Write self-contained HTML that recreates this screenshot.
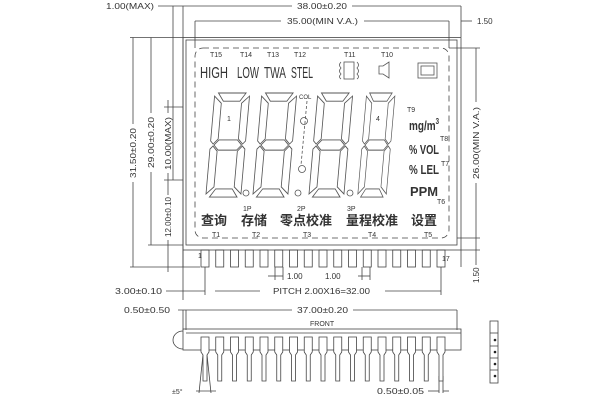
<!DOCTYPE html>
<html><head><meta charset="utf-8"><style>
html,body{margin:0;padding:0;background:#fff;}
svg{display:block;}
text{font-family:"Liberation Sans","Noto Sans CJK SC",sans-serif;fill:#333;}
</style></head><body>
<svg width="600" height="400" viewBox="0 0 600 400" xmlns="http://www.w3.org/2000/svg">
<defs>
<g id="dg" fill="none" stroke="#555" stroke-width="0.9">
<polygon points="5,1 35,1 29,9 11,9"/>
<polygon points="1,4 9,11 9,46 4,51 1,48"/>
<polygon points="39,4 39,48 36,51 31,46 31,11"/>
<polygon points="5,52 10,47 30,47 35,52 30,57 10,57"/>
<polygon points="1,56 4,53 9,58 9,93 1,100"/>
<polygon points="39,56 39,100 31,93 31,58 36,53"/>
<polygon points="11,95 29,95 35,103 5,103"/>
</g>
</defs>
<g stroke="#444" stroke-width="0.8" fill="none">
<rect x="183" y="37.5" width="278" height="212.5"/>
<rect x="186" y="40" width="271" height="205"/>
<rect x="195" y="48" width="254" height="190" rx="8" stroke-dasharray="6,4"/>
<line x1="158" y1="6" x2="292" y2="6"/><line x1="352" y1="6" x2="461" y2="6"/>
<line x1="461" y1="6" x2="461" y2="37"/>
<line x1="173" y1="6" x2="173" y2="180"/>
<line x1="183" y1="6" x2="183" y2="300"/>
<line x1="195" y1="21" x2="281" y2="21"/><line x1="364" y1="21" x2="449" y2="21"/>
<line x1="195" y1="21" x2="195" y2="48"/>
<line x1="449" y1="21" x2="449" y2="48"/>
<line x1="461" y1="21" x2="472" y2="21"/>
<line x1="130" y1="37.5" x2="183" y2="37.5"/>
<line x1="130" y1="267" x2="200" y2="267"/>
<line x1="148" y1="245" x2="183" y2="245"/>
<line x1="133" y1="37.5" x2="133" y2="124"/><line x1="133" y1="182" x2="133" y2="267"/>
<line x1="151" y1="37.5" x2="151" y2="113"/><line x1="151" y1="172" x2="151" y2="245"/>
<line x1="168" y1="100" x2="168" y2="113"/><line x1="168" y1="173" x2="168" y2="195"/>
<line x1="164" y1="107" x2="183" y2="107"/>
<line x1="164" y1="180" x2="183" y2="180"/>
<line x1="168" y1="240" x2="168" y2="272"/>
<line x1="449" y1="48" x2="480" y2="48"/>
<line x1="457" y1="238" x2="480" y2="238"/>
<line x1="461" y1="250" x2="480" y2="250"/>
<line x1="476" y1="48" x2="476" y2="102"/><line x1="476" y1="183" x2="476" y2="238"/>
<line x1="476" y1="238" x2="476" y2="265"/>
<line x1="183" y1="250" x2="183" y2="267"/>
<line x1="461" y1="250" x2="461" y2="267"/>
</g>
<g stroke="#444" stroke-width="0.8" fill="none">
<rect x="201" y="250" width="8" height="17"/><rect x="215.75" y="250" width="8" height="17"/><rect x="230.5" y="250" width="8" height="17"/><rect x="245.25" y="250" width="8" height="17"/><rect x="260" y="250" width="8" height="17"/><rect x="274.75" y="250" width="8" height="17"/><rect x="289.5" y="250" width="8" height="17"/><rect x="304.25" y="250" width="8" height="17"/><rect x="319" y="250" width="8" height="17"/><rect x="333.75" y="250" width="8" height="17"/><rect x="348.5" y="250" width="8" height="17"/><rect x="363.25" y="250" width="8" height="17"/><rect x="378" y="250" width="8" height="17"/><rect x="392.75" y="250" width="8" height="17"/><rect x="407.5" y="250" width="8" height="17"/><rect x="422.25" y="250" width="8" height="17"/><rect x="437" y="250" width="8" height="17"/>
<line x1="205" y1="267" x2="205" y2="295"/>
<line x1="441" y1="267" x2="441" y2="295"/>
<line x1="166" y1="291" x2="205" y2="291"/>
<line x1="215" y1="291" x2="260" y2="291"/>
<line x1="385" y1="291" x2="441" y2="291"/>
<line x1="268" y1="276" x2="283" y2="276"/>
<line x1="358" y1="276" x2="370" y2="276"/>
<line x1="275" y1="267" x2="275" y2="280"/><line x1="283" y1="267" x2="283" y2="280"/>
<line x1="362" y1="267" x2="362" y2="280"/><line x1="370" y1="267" x2="370" y2="280"/>
<line x1="178" y1="310" x2="292" y2="310"/><line x1="353" y1="310" x2="457" y2="310"/>
<line x1="183" y1="310" x2="183" y2="330"/>
<line x1="186" y1="310" x2="186" y2="330"/>
<line x1="457" y1="310" x2="457" y2="330"/>
<rect x="183" y="329" width="278" height="21"/>
<line x1="186" y1="333" x2="461" y2="333"/>
<path d="M183,331 A10,9 0 0 0 183,349"/>
<line x1="439" y1="376" x2="439" y2="393"/><line x1="443" y1="376" x2="443" y2="393"/>
<line x1="428" y1="391" x2="439" y2="391"/><line x1="443" y1="391" x2="449" y2="391"/>
<line x1="196" y1="391" x2="216" y2="391"/>
<line x1="204" y1="345" x2="199" y2="393"/><line x1="206" y1="345" x2="211" y2="393"/>
<rect x="490" y="321" width="8" height="62"/>
<line x1="490" y1="333" x2="498" y2="333"/><line x1="490" y1="346" x2="498" y2="346"/><line x1="490" y1="358" x2="498" y2="358"/><line x1="490" y1="370" x2="498" y2="370"/>
</g>
<g fill="#222"><circle cx="495" cy="340" r="1.3"/><circle cx="495" cy="352" r="1.3"/><circle cx="495" cy="364" r="1.3"/><circle cx="495" cy="376" r="1.3"/></g>
<g stroke="#444" stroke-width="0.8" fill="#fff">
<path d="M201,337 h8 v15 l-2,3 v26 h-4 v-26 l-2,-3z"/>
<path d="M215.75,337 h8 v15 l-2,3 v26 h-4 v-26 l-2,-3z"/>
<path d="M230.5,337 h8 v15 l-2,3 v26 h-4 v-26 l-2,-3z"/>
<path d="M245.25,337 h8 v15 l-2,3 v26 h-4 v-26 l-2,-3z"/>
<path d="M260,337 h8 v15 l-2,3 v26 h-4 v-26 l-2,-3z"/>
<path d="M274.75,337 h8 v15 l-2,3 v26 h-4 v-26 l-2,-3z"/>
<path d="M289.5,337 h8 v15 l-2,3 v26 h-4 v-26 l-2,-3z"/>
<path d="M304.25,337 h8 v15 l-2,3 v26 h-4 v-26 l-2,-3z"/>
<path d="M319,337 h8 v15 l-2,3 v26 h-4 v-26 l-2,-3z"/>
<path d="M333.75,337 h8 v15 l-2,3 v26 h-4 v-26 l-2,-3z"/>
<path d="M348.5,337 h8 v15 l-2,3 v26 h-4 v-26 l-2,-3z"/>
<path d="M363.25,337 h8 v15 l-2,3 v26 h-4 v-26 l-2,-3z"/>
<path d="M378,337 h8 v15 l-2,3 v26 h-4 v-26 l-2,-3z"/>
<path d="M392.75,337 h8 v15 l-2,3 v26 h-4 v-26 l-2,-3z"/>
<path d="M407.5,337 h8 v15 l-2,3 v26 h-4 v-26 l-2,-3z"/>
<path d="M422.25,337 h8 v15 l-2,3 v26 h-4 v-26 l-2,-3z"/>
<path d="M437,337 h8 v15 l-2,3 v26 h-4 v-26 l-2,-3z"/>
</g>
<use href="#dg" transform="translate(214,92) skewX(-5) scale(0.92,1.02)"/>
<use href="#dg" transform="translate(261,92) skewX(-5) scale(0.92,1.02)"/>
<use href="#dg" transform="translate(317,92) skewX(-5) scale(0.92,1.02)"/>
<use href="#dg" transform="translate(366,92) skewX(-5) scale(0.75,1.02)"/>
<g fill="none" stroke="#555" stroke-width="0.8">
<circle cx="246" cy="193" r="3"/><circle cx="298" cy="193" r="3"/><circle cx="350" cy="193" r="3"/>
<circle cx="304" cy="121" r="3.5"/><circle cx="302" cy="169" r="3.5"/>
<line x1="307" y1="101" x2="301" y2="165" stroke-dasharray="3,2"/>
<rect x="418" y="63" width="19" height="15"/><rect x="421" y="66" width="13" height="9"/>
<path d="M379,66 h4 l6,-4 v16 l-6,-4 h-4z"/>
<path d="M341,62 q-3,3 0,6 q-3,3 0,6 q-3,3 0,5 M357,62 q3,3 0,6 q3,3 0,6 q3,3 0,5"/>
<rect x="344" y="62" width="10" height="17"/>
</g>
<g font-size="7">
<text x="210" y="57">T15</text><text x="240" y="57">T14</text><text x="267" y="57">T13</text><text x="294" y="57">T12</text><text x="344" y="57">T11</text><text x="381" y="57">T10</text>
<text x="212" y="237">T1</text><text x="252" y="237">T2</text><text x="303" y="237">T3</text><text x="368" y="237">T4</text><text x="424" y="237">T5</text>
<text x="243" y="211">1P</text><text x="297" y="211">2P</text><text x="347" y="211">3P</text>
<text x="437" y="204">T6</text><text x="407" y="112">T9</text><text x="440" y="141">T8</text><text x="441" y="166">T7</text>
<text x="299" y="99" font-size="6">COL</text><text x="227" y="121">1</text><text x="376" y="121">4</text>
<text x="198" y="258">1</text><text x="442" y="261">17</text>
</g>
<g font-size="16" fill="#333">
<text x="200" y="78" textLength="28" lengthAdjust="spacingAndGlyphs">HIGH</text>
<text x="237" y="78" textLength="22" lengthAdjust="spacingAndGlyphs">LOW</text>
<text x="264" y="78" textLength="22" lengthAdjust="spacingAndGlyphs">TWA</text>
<text x="291" y="78" textLength="22" lengthAdjust="spacingAndGlyphs">STEL</text>
</g>
<g font-size="13" font-weight="bold" fill="#333">
<text x="409" y="130" textLength="30" lengthAdjust="spacingAndGlyphs">mg/m<tspan font-size="8" dy="-6">3</tspan></text>
<text x="409" y="154" textLength="30" lengthAdjust="spacingAndGlyphs">% VOL</text>
<text x="409" y="174" textLength="30" lengthAdjust="spacingAndGlyphs">% LEL</text>
<text x="410" y="196" textLength="28" lengthAdjust="spacingAndGlyphs">PPM</text>
</g>
<g font-size="13" font-weight="bold" fill="#333">
<text x="201" y="225">查询</text><text x="241" y="225">存储</text><text x="280" y="225">零点校准</text><text x="346" y="225">量程校准</text><text x="411" y="225">设置</text>
</g>
<g font-size="8" fill="#333">
<text x="106" y="9" textLength="48" lengthAdjust="spacingAndGlyphs">1.00(MAX)</text>
<text x="297" y="9" textLength="50" lengthAdjust="spacingAndGlyphs">38.00±0.20</text>
<text x="287" y="24" textLength="71" lengthAdjust="spacingAndGlyphs">35.00(MIN V.A.)</text>
<text x="477" y="24">1.50</text>
<text transform="translate(136,178) rotate(-90)" textLength="50" lengthAdjust="spacingAndGlyphs">31.50±0.20</text>
<text transform="translate(154,168) rotate(-90)" textLength="51" lengthAdjust="spacingAndGlyphs">29.00±0.20</text>
<text transform="translate(171,170) rotate(-90)" textLength="53" lengthAdjust="spacingAndGlyphs">10.00(MAX)</text>
<text transform="translate(171,237) rotate(-90)" textLength="40" lengthAdjust="spacingAndGlyphs">12.00±0.10</text>
<text transform="translate(479,179) rotate(-90)" textLength="72" lengthAdjust="spacingAndGlyphs">26.00(MIN V.A.)</text>
<text transform="translate(479,283) rotate(-90)">1.50</text>
<text x="115" y="294" textLength="47" lengthAdjust="spacingAndGlyphs">3.00±0.10</text>
<text x="273" y="294" textLength="97" lengthAdjust="spacingAndGlyphs">PITCH 2.00X16=32.00</text>
<text x="287" y="279">1.00</text><text x="325" y="279">1.00</text>
<text x="124" y="313" textLength="46" lengthAdjust="spacingAndGlyphs">0.50±0.50</text>
<text x="297" y="313" textLength="51" lengthAdjust="spacingAndGlyphs">37.00±0.20</text>
<text x="310" y="326" font-size="7">FRONT</text>
<text x="172" y="394" font-size="7">±5°</text>
<text x="377" y="394" textLength="47" lengthAdjust="spacingAndGlyphs">0.50±0.05</text>
</g>
</svg>
</body></html>
